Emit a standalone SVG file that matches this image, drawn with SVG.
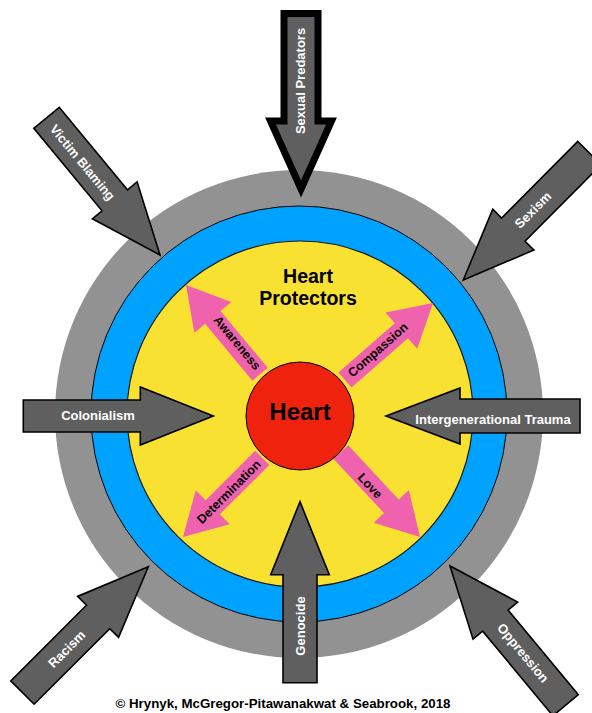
<svg xmlns="http://www.w3.org/2000/svg" width="592" height="713" viewBox="0 0 592 713">
<style>
.ga{fill:#5f5f5f;stroke:#000;stroke-width:1.6;stroke-linejoin:miter}
.gt{font-family:"Liberation Sans",Arial,sans-serif;font-weight:bold;font-size:13px;fill:#fff;text-anchor:middle;dominant-baseline:central}
.pa{fill:#ef62ad;stroke:none}
.pt{font-family:"Liberation Sans",Arial,sans-serif;font-weight:bold;font-size:12.5px;fill:#000;text-anchor:middle;dominant-baseline:central}
.ht{font-family:"Liberation Sans",Arial,sans-serif;font-weight:bold;fill:#000;text-anchor:middle}
</style>
<rect width="592" height="713" fill="#fff"/>
<g id="rings">
<circle cx="299" cy="414" r="244" fill="#929292"/>
<circle cx="299" cy="414" r="208" fill="#00a2ff" stroke="#000" stroke-width="1"/>
<circle cx="300" cy="414" r="173" fill="#f9e131" stroke="#1a1a1a" stroke-width="1.2"/>
</g>
<g id="protectors-label">
<text class="ht" x="308" y="283" font-size="19.5">Heart</text>
<text class="ht" x="308" y="305" font-size="19.5">Protectors</text>
</g>
<g id="connectors">
<g id="awareness">
<path class="pa" transform="translate(186,285) rotate(-129.7)" d="M0,0 L-42,-24 L-42,-10 L-116,-10 L-116,10 L-42,10 L-42,24 Z"/>
<text class="pt" transform="translate(237,343) rotate(50.3)">Awareness</text>
</g>
<g id="compassion">
<path class="pa" transform="translate(433,303) rotate(-41.2)" d="M0,0 L-42,-24 L-42,-10 L-117,-10 L-117,10 L-42,10 L-42,24 Z"/>
<text class="pt" transform="translate(378,350) rotate(-41.2)">Compassion</text>
</g>
<g id="determination">
<path class="pa" transform="translate(183,537) rotate(135)" d="M0,0 L-42,-24 L-42,-10 L-112,-10 L-112,10 L-42,10 L-42,24 Z"/>
<text class="pt" transform="translate(229,492) rotate(-45)">Determination</text>
</g>
<g id="love">
<path class="pa" transform="translate(420,537) rotate(47)" d="M0,0 L-42,-24 L-42,-10 L-116,-10 L-116,10 L-42,10 L-42,24 Z"/>
<text class="pt" transform="translate(370,486) rotate(47)">Love</text>
</g>
</g>
<g id="heart">
<circle cx="300" cy="416" r="54" fill="#ee220d" stroke="#000" stroke-width="1"/>
<text class="ht" x="300" y="420" font-size="24">Heart</text>
</g>
<g id="sexual-predators">
<path class="ga" style="stroke-width:7" transform="translate(301,189) rotate(90)" d="M0,0 L-68,-30.5 L-68,-17 L-175.5,-17 L-175.5,17 L-68,17 L-68,30.5 Z"/>
<text class="gt" transform="translate(300,81) rotate(-90)" font-size="12.5">Sexual Predators</text>
</g>
<g id="victim-blaming">
<path class="ga" transform="translate(160,255) rotate(50.4)" d="M0,0 L-71,-29 L-71,-16.5 L-178,-16.5 L-178,16.5 L-71,16.5 L-71,29 Z"/>
<text class="gt" transform="translate(82.5,162.5) rotate(50.4)" font-size="12.5">Victim Blaming</text>
</g>
<g id="sexism">
<path class="ga" transform="translate(463.3,280) rotate(134.8)" d="M0,0 L-71,-29 L-71,-16.5 L-179,-16.5 L-179,16.5 L-71,16.5 L-71,29 Z"/>
<text class="gt" transform="translate(533,210) rotate(-45)" font-size="12.5">Sexism</text>
</g>
<g id="colonialism">
<path class="ga" transform="translate(213.3,416) rotate(0)" d="M0,0 L-73,-29 L-73,-16 L-190,-16 L-190,16 L-73,16 L-73,29 Z"/>
<text class="gt" x="98" y="415">Colonialism</text>
</g>
<g id="intergenerational-trauma">
<path class="ga" transform="translate(386,416) rotate(180)" d="M0,0 L-74,-28 L-74,-17 L-194,-17 L-194,17 L-74,17 L-74,28 Z"/>
<text class="gt" x="493" y="419">Intergenerational Trauma</text>
</g>
<g id="racism">
<path class="ga" transform="translate(148.3,566.7) rotate(-45)" d="M0,0 L-71,-29 L-71,-16.5 L-178,-16.5 L-178,16.5 L-71,16.5 L-71,29 Z"/>
<text class="gt" transform="translate(66.7,649) rotate(-45)" font-size="12.5">Racism</text>
</g>
<g id="genocide">
<path class="ga" transform="translate(300,501.7) rotate(-90)" d="M0,0 L-73,-29.3 L-73,-17 L-181,-17 L-181,17 L-73,17 L-73,29.3 Z"/>
<text class="gt" transform="translate(300,626) rotate(-90)" font-size="12.5">Genocide</text>
</g>
<g id="oppression">
<path class="ga" transform="translate(450,566) rotate(-129.7)" d="M0,0 L-71,-29 L-71,-16.5 L-181,-16.5 L-181,16.5 L-71,16.5 L-71,29 Z"/>
<text class="gt" transform="translate(523,653) rotate(50.3)" font-size="12.5">Oppression</text>
</g>
<g id="footer">
<text class="ht" x="283" y="708" font-size="13.3">© Hrynyk, McGregor-Pitawanakwat &amp; Seabrook, 2018</text>
</g>
</svg>
